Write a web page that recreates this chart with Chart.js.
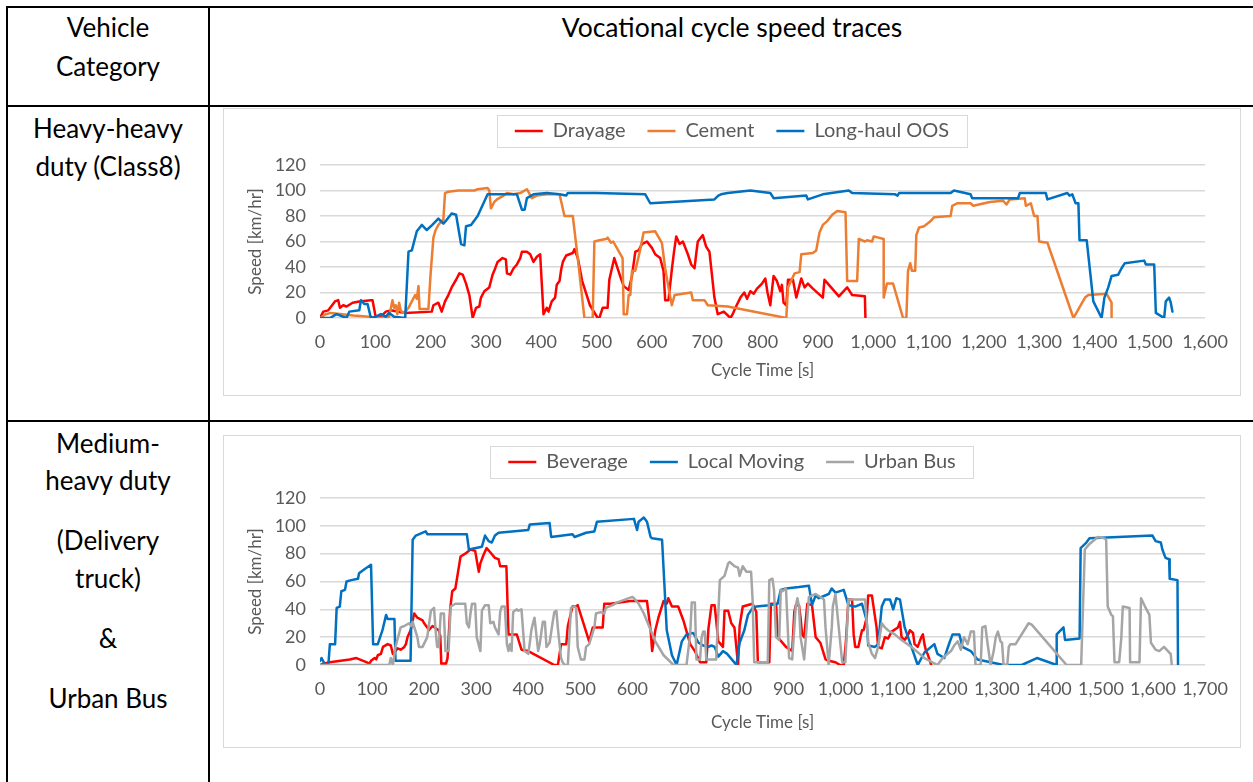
<!DOCTYPE html>
<html><head><meta charset="utf-8">
<script src="https://cdn.jsdelivr.net/npm/chart.js@4.4.1/dist/chart.umd.min.js"></script>
<style>
html,body{margin:0;padding:0;background:#fff;overflow:hidden;width:1253px;height:782px;}
.ln{position:absolute;background:#000;}
.tx{position:absolute;font-family:Lato,'Liberation Sans',sans-serif;color:#000;font-size:26px;white-space:nowrap;transform:translate(-50%,-50%);line-height:1;}
.box{position:absolute;border:1px solid #d9d9d9;box-sizing:border-box;pointer-events:none;}
canvas{position:absolute;}
</style></head><body>
<!-- table lines -->
<div class="ln" style="left:6px;top:6px;width:1247px;height:2px"></div>
<div class="ln" style="left:6px;top:6px;width:2px;height:776px"></div>
<div class="ln" style="left:208px;top:6px;width:2px;height:776px"></div>
<div class="ln" style="left:6px;top:105px;width:1247px;height:2px"></div>
<div class="ln" style="left:6px;top:420px;width:1247px;height:2px"></div>
<!-- table text -->
<div class="tx" style="left:108px;top:27px">Vehicle</div>
<div class="tx" style="left:108px;top:66px">Category</div>
<div class="tx" style="left:732px;top:27px;font-size:26.5px">Vocational cycle speed traces</div>
<div class="tx" style="left:108px;top:128px">Heavy-heavy</div>
<div class="tx" style="left:108px;top:166px">duty (Class8)</div>
<div class="tx" style="left:108px;top:443px">Medium-</div>
<div class="tx" style="left:108px;top:480px">heavy duty</div>
<div class="tx" style="left:108px;top:540px">(Delivery</div>
<div class="tx" style="left:108px;top:578px">truck)</div>
<div class="tx" style="left:108px;top:638px">&amp;</div>
<div class="tx" style="left:108px;top:698px">Urban Bus</div>

<canvas id="c1" width="1018" height="288" style="left:223px;top:108px"></canvas>
<div class="box" style="left:223px;top:108px;width:1018px;height:288px"></div>
<canvas id="c2" width="1018" height="313" style="left:223px;top:435px"></canvas>
<div class="box" style="left:223px;top:435px;width:1018px;height:313px"></div>

<script>
// ---------- data (time [s], speed [km/hr]) ----------
const drayage = [[0,0],[6,5],[15,6],[27,13],[33,14],[36,8],[42,10],[48,9],[59,12],[71,13],[92,14],[95,14],[101,0],[110,1],[119,5],[128,6],[154,4],[202,5],[205,10],[214,12],[220,5],[226,13],[232,18],[238,24],[246,30],[252,35],[258,34],[264,27],[270,18],[276,0],[282,8],[288,9],[291,16],[297,21],[306,24],[309,29],[312,34],[315,37],[321,44],[330,47],[336,46],[338,35],[344,34],[350,39],[356,42],[362,47],[365,52],[374,52],[380,50],[386,44],[392,48],[398,50],[404,3],[410,8],[413,5],[419,13],[425,16],[428,26],[433,29],[436,38],[439,44],[445,49],[457,51],[460,54],[466,47],[474,29],[488,10],[502,0],[505,0],[511,8],[520,8],[523,30],[532,47],[538,39],[544,31],[549,25],[558,22],[564,33],[570,52],[576,53],[582,58],[591,60],[600,55],[606,50],[615,47],[621,37],[624,14],[630,14],[636,38],[640,52],[644,64],[650,58],[656,60],[665,50],[671,42],[677,39],[680,50],[683,60],[692,65],[698,56],[704,52],[713,16],[719,3],[730,5],[742,0],[746,3],[751,8],[760,16],[767,20],[772,15],[778,21],[784,19],[790,23],[799,27],[805,31],[809,20],[814,10],[820,33],[826,29],[832,21],[835,26],[838,12],[843,10],[846,30],[855,30],[861,16],[870,31],[876,24],[882,27],[891,23],[909,16],[912,30],[920,26],[938,17],[953,24],[962,18],[985,17],[986,0]];
const cement = [[0,0],[10,3],[20,4],[40,3],[60,2],[89,1],[110,0],[125,1],[131,14],[134,8],[137,10],[140,3],[143,12],[146,6],[150,4],[154,5],[160,8],[166,13],[172,18],[175,15],[178,25],[180,7],[196,7],[200,35],[205,63],[209,69],[214,73],[220,76],[223,77],[226,98],[232,99],[250,100],[279,100],[285,101],[303,102],[306,100],[309,86],[315,91],[320,93],[332,96],[338,98],[350,97],[362,98],[374,101],[383,94],[392,96],[410,97],[433,97],[442,80],[457,80],[466,47],[478,0],[493,0],[496,60],[505,61],[517,62],[520,63],[526,59],[530,60],[547,47],[549,3],[555,3],[558,18],[561,18],[564,37],[570,37],[578,52],[585,67],[606,68],[618,59],[624,39],[630,24],[636,10],[641,18],[671,20],[674,14],[695,14],[701,10],[737,9],[843,0],[846,24],[858,35],[867,36],[870,50],[891,51],[897,53],[903,67],[909,73],[917,76],[926,81],[935,84],[950,83],[953,29],[971,29],[974,62],[985,60],[989,61],[998,60],[1001,64],[1019,62],[1019,16],[1025,27],[1036,27],[1054,0],[1060,0],[1063,37],[1067,43],[1070,37],[1076,37],[1078,65],[1083,71],[1092,72],[1104,76],[1110,79],[1140,80],[1143,88],[1152,90],[1176,90],[1181,88],[1211,91],[1235,92],[1241,89],[1247,93],[1274,94],[1276,88],[1285,90],[1291,80],[1297,80],[1300,60],[1315,59],[1362,0],[1383,16],[1389,18],[1422,19],[1431,12],[1431,0]];
const longHaul = [[0,0],[18,0],[30,3],[42,1],[48,0],[53,5],[71,6],[74,14],[80,11],[86,11],[92,0],[101,1],[110,3],[119,1],[125,4],[134,1],[154,0],[160,52],[166,53],[175,68],[184,73],[193,69],[203,73],[214,78],[223,74],[229,77],[238,82],[246,81],[255,58],[261,57],[264,72],[273,73],[285,80],[303,97],[356,97],[365,85],[370,85],[374,94],[386,97],[410,98],[433,97],[445,96],[448,98],[499,98],[588,97],[597,90],[713,93],[720,96],[725,97],[737,98],[778,100],[814,98],[820,94],[879,96],[882,93],[909,97],[956,100],[962,98],[1040,97],[1044,96],[1047,98],[1140,98],[1146,100],[1176,97],[1179,94],[1262,94],[1265,98],[1312,98],[1315,93],[1351,98],[1355,96],[1360,97],[1366,90],[1371,90],[1373,61],[1386,61],[1398,13],[1413,0],[1418,16],[1425,24],[1431,33],[1443,34],[1449,39],[1455,43],[1490,45],[1493,42],[1508,42],[1511,4],[1526,0],[1529,13],[1535,16],[1538,12],[1541,5]];

const beverage = [[0,0],[6,1],[19,2],[57,4],[70,5],[89,2],[95,1],[98,3],[105,5],[108,4],[111,7],[117,8],[121,13],[130,15],[136,14],[140,8],[145,10],[149,12],[155,11],[162,13],[165,15],[168,20],[174,25],[181,37],[187,34],[197,32],[200,30],[206,27],[209,25],[216,28],[228,25],[231,21],[233,1],[242,1],[245,5],[250,40],[254,53],[260,55],[270,78],[279,80],[289,83],[298,82],[305,67],[308,73],[314,79],[320,84],[327,81],[336,77],[343,76],[346,71],[358,71],[362,22],[378,22],[387,11],[400,10],[450,0],[457,0],[463,15],[473,15],[476,28],[485,42],[492,42],[495,43],[517,17],[524,27],[543,27],[546,44],[558,44],[596,46],[628,46],[635,25],[638,10],[644,25],[650,34],[660,46],[666,44],[669,48],[676,42],[688,42],[698,32],[711,15],[720,10],[730,2],[742,2],[746,26],[752,43],[758,43],[765,17],[774,13],[777,39],[784,39],[790,30],[796,27],[803,0],[806,28],[812,42],[831,44],[838,38],[841,2],[863,2],[866,44],[876,44],[879,20],[895,13],[907,10],[911,38],[914,43],[920,43],[923,34],[926,22],[930,20],[936,44],[945,43],[952,20],[961,16],[971,4],[977,3],[990,2],[999,0],[1006,0],[1010,16],[1015,47],[1022,47],[1025,22],[1028,13],[1034,13],[1041,25],[1044,25],[1050,34],[1053,50],[1060,50],[1069,27],[1072,13],[1079,12],[1085,20],[1091,19],[1098,24],[1110,27],[1114,31],[1117,20],[1123,18],[1130,22],[1133,25],[1139,23],[1142,15],[1148,13],[1155,20],[1158,22],[1161,15],[1164,10],[1167,8],[1174,0]];
const localMoving = [[0,3],[3,5],[10,0],[16,0],[19,15],[29,15],[32,41],[38,42],[41,53],[48,54],[51,60],[60,61],[73,62],[75,66],[86,69],[98,72],[102,15],[111,15],[120,25],[127,36],[130,33],[143,33],[145,3],[174,3],[178,90],[184,93],[203,96],[206,94],[282,94],[286,83],[311,85],[317,93],[324,89],[330,88],[336,93],[343,95],[400,97],[403,101],[441,102],[444,92],[485,94],[489,92],[511,95],[527,96],[532,103],[603,105],[609,97],[612,103],[622,106],[628,103],[635,92],[638,91],[657,90],[663,47],[666,25],[676,7],[685,0],[695,17],[704,22],[717,23],[727,16],[736,14],[746,13],[752,14],[758,13],[765,6],[774,10],[782,8],[800,0],[806,16],[815,25],[822,36],[831,41],[838,42],[863,43],[879,44],[885,54],[895,55],[920,56],[939,57],[945,43],[952,50],[958,48],[977,51],[983,55],[990,52],[1006,54],[1015,43],[1028,42],[1041,44],[1050,32],[1053,14],[1066,13],[1072,15],[1079,42],[1085,47],[1095,47],[1101,40],[1107,48],[1114,47],[1123,27],[1148,0],[1161,9],[1180,15],[1186,8],[1199,5],[1209,16],[1215,22],[1228,22],[1234,13],[1250,10],[1263,4],[1313,0],[1348,0],[1377,5],[1415,0],[1415,22],[1428,27],[1431,18],[1459,19],[1461,84],[1472,88],[1478,91],[1599,93],[1605,89],[1615,88],[1618,83],[1624,77],[1631,76],[1632,62],[1647,61],[1648,0]];
const urbanBus = [[0,0],[133,0],[136,5],[140,0],[143,8],[145,13],[155,27],[162,28],[171,30],[175,28],[178,31],[187,20],[190,13],[197,13],[206,20],[213,39],[219,41],[222,25],[225,13],[228,13],[232,37],[238,37],[241,10],[247,10],[251,42],[260,44],[279,44],[282,30],[286,27],[289,37],[292,44],[298,44],[301,20],[308,10],[311,39],[317,43],[324,43],[327,30],[333,31],[336,27],[343,22],[346,38],[349,42],[355,42],[359,15],[362,10],[365,15],[368,10],[371,38],[378,40],[381,39],[387,40],[393,10],[400,8],[403,16],[406,25],[409,30],[412,34],[419,10],[422,15],[428,31],[432,31],[435,13],[441,16],[447,31],[450,38],[454,39],[457,26],[463,5],[466,2],[470,0],[476,0],[482,41],[489,42],[492,41],[495,13],[501,4],[508,4],[511,13],[517,15],[527,27],[530,37],[539,38],[546,37],[549,41],[562,43],[571,45],[600,49],[603,48],[612,44],[622,37],[644,17],[660,7],[679,0],[704,0],[711,22],[714,45],[720,45],[723,4],[730,4],[733,20],[736,24],[739,24],[742,4],[761,4],[768,61],[777,64],[784,73],[787,74],[796,71],[803,70],[806,64],[812,71],[819,67],[828,67],[831,46],[834,2],[860,2],[863,61],[869,62],[872,54],[876,20],[882,18],[885,54],[888,53],[895,55],[898,30],[901,5],[907,4],[914,43],[917,48],[920,42],[923,20],[930,4],[939,49],[952,51],[965,48],[968,47],[971,27],[977,0],[983,27],[985,42],[990,51],[1003,2],[1009,2],[1015,47],[1025,47],[1041,47],[1047,47],[1053,16],[1060,8],[1066,5],[1072,13],[1079,30],[1085,27],[1091,25],[1104,22],[1117,18],[1136,13],[1161,5],[1186,0],[1196,5],[1212,10],[1218,14],[1225,17],[1231,11],[1237,20],[1244,15],[1250,24],[1256,24],[1259,0],[1269,0],[1272,27],[1278,28],[1282,16],[1288,0],[1294,10],[1298,20],[1302,24],[1305,20],[1307,17],[1310,16],[1313,0],[1320,0],[1323,13],[1326,15],[1336,15],[1361,30],[1367,29],[1434,0],[1462,0],[1469,83],[1478,87],[1494,92],[1507,91],[1510,90],[1513,42],[1520,36],[1523,35],[1526,2],[1535,2],[1539,19],[1542,42],[1555,41],[1556,2],[1574,2],[1577,48],[1586,41],[1593,36],[1596,16],[1605,11],[1612,10],[1621,13],[1631,9],[1634,8],[1636,0]];

const heavyLabels = ['Drayage', 'Cement', 'Long-haul OOS'];
const mediumLabels = ['Beverage', 'Local Moving', 'Urban Bus'];
const heavyColors = ['#FF0000', '#ED7D31', '#0070C0'];
const mediumColors = ['#FF0000', '#0070C0', '#A5A5A5'];
const speedTicks = [0, 20, 40, 60, 80, 100, 120];
const xTitle = 'Cycle Time [s]';
const yTitle = 'Speed [km/hr]';

// ---------- helpers ----------
const legendTweak = {
  id: 'legendTweak',
  beforeLayout(chart, args, opts) {
    const lg = chart.legend;
    if (lg && !lg._patched) {
      const fit = lg.fit;
      lg.fit = function () { fit.call(this); this.height = opts.height; };
      lg._patched = true;
    }
  },
  afterLayout(chart, args, opts) {
    const lg = chart.legend;
    if (!lg) return;
    lg.left = 0; lg.right = chart.width; lg.width = chart.width;
    lg.top = opts.top; lg.bottom = opts.top + 100; lg.height = 100;
  },
  afterDraw(chart, args, opts) {
    const lg = chart.legend;
    if (!lg || !lg.legendHitBoxes || !lg.legendHitBoxes.length) return;
    const hb = lg.legendHitBoxes;
    const l = hb[0].left - opts.padX;
    const r = hb[hb.length - 1].left + hb[hb.length - 1].width + opts.padX;
    const cy = hb[0].top + hb[0].height / 2;
    const ctx = chart.ctx;
    ctx.save();
    ctx.strokeStyle = '#d9d9d9';
    ctx.lineWidth = 1;
    ctx.strokeRect(Math.round(l) + 0.5, Math.round(cy - opts.boxH / 2) + 0.5, Math.round(r - l), opts.boxH);
    ctx.restore();
  }
};

function ds(label, pts, color, order) {
  return {
    label, order,
    data: pts.map(p => ({x: p[0], y: p[1]})),
    borderColor: color, backgroundColor: color,
    borderWidth: 2.5, pointRadius: 0, pointHoverRadius: 0,
    showLine: true, fill: false, tension: 0,
    borderJoinStyle: 'round', borderCapStyle: 'round'
  };
}

function makeChart(id, datasets, xMax, target, legendOpts, xTitlePad) {
  const tickColor = '#595959';
  const chart = new Chart(document.getElementById(id), {
    type: 'scatter',
    data: {datasets},
    options: {
      responsive: false, animation: false,
      layout: {padding: {left: 20, top: 0, right: 20, bottom: 10}},
      plugins: {
        tooltip: {enabled: false},
        legend: {
          display: true, position: 'top',
          labels: {
            usePointStyle: true, pointStyle: 'line', pointStyleWidth: 28,
            padding: 22, color: tickColor,
            font: {family: 'Lato', size: 20},
            sort: (a, b) => a.datasetIndex - b.datasetIndex
          }
        },
        legendTweak: legendOpts
      },
      scales: {
        x: {
          type: 'linear', min: 0, max: xMax,
          grid: {display: false, drawTicks: false},
          border: {display: false},
          ticks: {stepSize: 100, color: tickColor, font: {family: 'Lato', size: 18}, padding: 13, autoSkip: false, maxRotation: 0},
          title: {display: true, text: xTitle, color: tickColor, font: {family: 'Lato', size: 17}, padding: {top: xTitlePad, bottom: 0}}
        },
        y: {
          min: 0, max: 120,
          afterBuildTicks: s => { s.ticks = speedTicks.map(v => ({value: v})); },
          grid: {color: '#d9d9d9', lineWidth: 1.5, drawTicks: false},
          border: {display: false},
          ticks: {color: tickColor, font: {family: 'Lato', size: 18}, padding: 14},
          title: {display: true, text: yTitle, color: tickColor, font: {family: 'Lato', size: 17}, padding: {top: 0, bottom: -5}}
        }
      }
    },
    plugins: [legendTweak]
  });
  // align plot area to the reference layout
  for (let i = 0; i < 5; i++) {
    const a = chart.chartArea, p = chart.config.options.layout.padding;
    const dl = target.left - a.left, dt = target.top - a.top, dr = a.right - target.right, db = a.bottom - target.bottom;
    if (Math.abs(dl) < 0.5 && Math.abs(dt) < 0.5 && Math.abs(dr) < 0.5 && Math.abs(db) < 0.5) break;
    p.left += dl; p.top += dt; p.right += dr; p.bottom += db;
    chart.update('none');
  }
  return chart;
}

function init() {
  Chart.defaults.font.family = 'Lato';
  makeChart('c1', [
    ds(heavyLabels[0], drayage, heavyColors[0], 3),
    ds(heavyLabels[1], cement, heavyColors[1], 2),
    ds(heavyLabels[2], longHaul, heavyColors[2], 1)
  ], 1600, {left: 97, top: 57, right: 995, bottom: 210}, {height: 40, top: -9, padX: 18, boxH: 32}, -5);
  makeChart('c2', [
    ds(mediumLabels[0], beverage, mediumColors[0], 3),
    ds(mediumLabels[1], localMoving, mediumColors[1], 2),
    ds(mediumLabels[2], urbanBus, mediumColors[2], 1)
  ], 1700, {left: 97, top: 63, right: 990, bottom: 230}, {height: 40, top: -5, padX: 18, boxH: 32}, 0);
}
if (document.fonts && document.fonts.load) {
  Promise.all([document.fonts.load('20px Lato'), document.fonts.load('26px Lato')]).then(init, init);
} else { init(); }
</script>
</body></html>
